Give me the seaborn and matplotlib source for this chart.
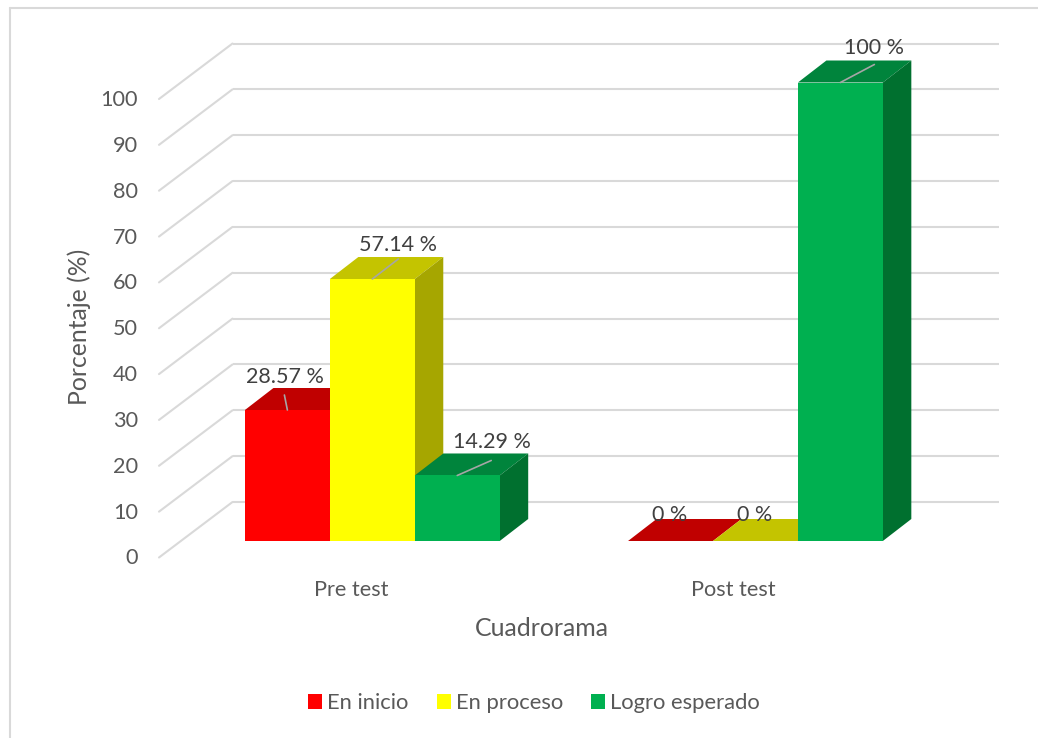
import matplotlib
matplotlib.use('Agg')
import matplotlib.pyplot as plt
from matplotlib.lines import Line2D
from matplotlib.patches import Polygon
from matplotlib.transforms import Affine2D
import pandas as pd
import seaborn as sns

# Values
tests = ['Pre test', 'Post test']
levels = ['En inicio', 'En proceso', 'Logro esperado']
en_inicio = [28.57, 0]
en_proceso = [57.14, 0]
logro_esperado = [14.29, 100]
bar_labels = ['28.57 %', '57.14 %', '14.29 %', '0 %', '0 %', '100 %']
y_ticks = list(range(0, 101, 10))

level_colors = ['#FF0000', '#FFFF00', '#00B050']
top_colors = ['#C00000', '#C4C400', '#00843C']
side_colors = ['#A00000', '#A6A600', '#00702F']

sns.set_theme(style='white')
plt.rcParams['font.family'] = ['Lato', 'DejaVu Sans']

W, H = 1038, 738
fig = plt.figure(figsize=(W / 100, H / 100), dpi=100, facecolor='white')

# axes box in pixels: the front face of the bars lives in this plane
left, right, top, bottom = 180.75, 947, 82.5, 541
ax = fig.add_axes([left / W, 1 - bottom / H, (right - left) / W, (bottom - top) / H])

data = pd.DataFrame({
    'test': tests * 3,
    'level': [lv for lv in levels for _ in tests],
    'value': en_inicio + en_proceso + logro_esperado,
})
sns.barplot(data=data, x='test', y='value', hue='level', order=tests, hue_order=levels,
            palette=level_colors, width=0.665, gap=0, saturation=1, errorbar=None,
            linewidth=0, ax=ax, legend=True)
ax.set_xlim(-0.5, 1.5)
ax.set_ylim(0, 100)
ax.patch.set_alpha(0)
for spine in ax.spines.values():
    spine.set_visible(False)


def shifted(dx, dy):
    # data coords moved by some pixels, used for the fake depth
    return ax.transData + Affine2D().translate(dx, dy)


# walls of the fake 3D box
grid_color = '#D9D9D9'
back = shifted(51.75, 39)
front = shifted(-21.75, -16.5)
for v in y_ticks:
    ax.plot([-0.5, 1.5], [v, v], color=grid_color, lw=1.5, transform=back, clip_on=False, zorder=0.5,
            solid_capstyle='butt')
    # diagonal from the front plane to the back wall, in pixels
    x0, y0 = front.transform((-0.5, v))
    x1, y1 = back.transform((-0.5, v))
    ax.plot([x0, x1], [y0, y1], color=grid_color, lw=1.5, transform=None, clip_on=False, zorder=0.5)

# depth of each bar
depth_x, depth_y = 28.5, 22
to_pixels = ax.transData.transform
for i, container in enumerate(ax.containers):
    for bar in container:
        x0, y0 = to_pixels((bar.get_x(), 0))
        x1, y1 = to_pixels((bar.get_x() + bar.get_width(), bar.get_height()))
        z = 2 + i
        roof = [(x0, y1), (x1, y1), (x1 + depth_x, y1 + depth_y), (x0 + depth_x, y1 + depth_y)]
        side = [(x1, y0), (x1, y1), (x1 + depth_x, y1 + depth_y), (x1 + depth_x, y0 + depth_y)]
        ax.add_patch(Polygon(roof, closed=True, fc=top_colors[i], ec='none', transform=None,
                             clip_on=False, zorder=z))
        if bar.get_height() > 0:
            ax.add_patch(Polygon(side, closed=True, fc=side_colors[i], ec='none', transform=None,
                                 clip_on=False, zorder=z))
        bar.set_zorder(z + 0.5)

# data labels with their leader lines, pixel offsets from the top centre of each bar
label_offsets = [(-2.5, 33), (25.5, 34), (34.5, 33), (-1, 26), (-0.5, 26), (33.5, 34.5)]
leader_ends = [(-3, 15), (26, 20), (34, 15), None, None, (34, 18)]
bars = [bar for j in range(2) for bar in (ax.containers[0][j], ax.containers[1][j], ax.containers[2][j])]
for bar, text, off, end in zip(bars, bar_labels, label_offsets, leader_ends):
    xc = bar.get_x() + bar.get_width() / 2
    yc = bar.get_height()
    if end is not None:
        ax.annotate('', xy=(xc, yc), xytext=end, textcoords='offset pixels', xycoords='data',
                    arrowprops=dict(arrowstyle='-', color='#A6A6A6', lw=1.2, shrinkA=0, shrinkB=0),
                    zorder=8, annotation_clip=False)
    ax.annotate(text, xy=(xc, yc), xytext=off, textcoords='offset pixels', ha='center', va='center',
                fontsize=15.5, color='#404040', zorder=9, annotation_clip=False)

# tick labels sit on the front plane, not on the bar plane
ax.set_yticks(y_ticks)
ax.set_yticklabels(y_ticks)
ax.tick_params(axis='y', length=0, pad=30.8, labelsize=15.6, labelcolor='#595959')
ax.tick_params(axis='x', length=0, pad=27.8, labelsize=15.6, labelcolor='#595959')
for lab in ax.get_yticklabels():
    lab.set_transform(lab.get_transform() + Affine2D().translate(0, -15.5))
for lab, dx in zip(ax.get_xticklabels(), [-21, -22]):
    lab.set_transform(lab.get_transform() + Affine2D().translate(dx, 0))
ax.set_xlabel('')
ax.set_ylabel('')
fig.text(79 / W, 1 - 327 / H, 'Porcentaje (%)', rotation=90, ha='center', va='center',
         fontsize=17.8, color='#595959')
fig.text(542 / W, 1 - 628 / H, 'Cuadrorama', ha='center', va='center', fontsize=17.9, color='#595959')

# legend along the bottom
handles, names = ax.get_legend_handles_labels()
ax.legend(handles, names, loc='center', bbox_to_anchor=(534 / W, 1 - 703 / H),
          bbox_transform=fig.transFigure, ncol=3, frameon=False, fontsize=15.8,
          handlelength=0.64, handleheight=0.64, handletextpad=0.22, columnspacing=1.3,
          labelcolor='#595959')

# outer chart border: only the top and left edges fall inside the picture
border = dict(color=grid_color, lw=1.5, transform=fig.transFigure)
fig.add_artist(Line2D([9.5 / W, 1], [1 - 7.5 / H, 1 - 7.5 / H], **border))
fig.add_artist(Line2D([9.5 / W, 9.5 / W], [0, 1 - 7.5 / H], **border))

fig.savefig('out.png', dpi=100)
